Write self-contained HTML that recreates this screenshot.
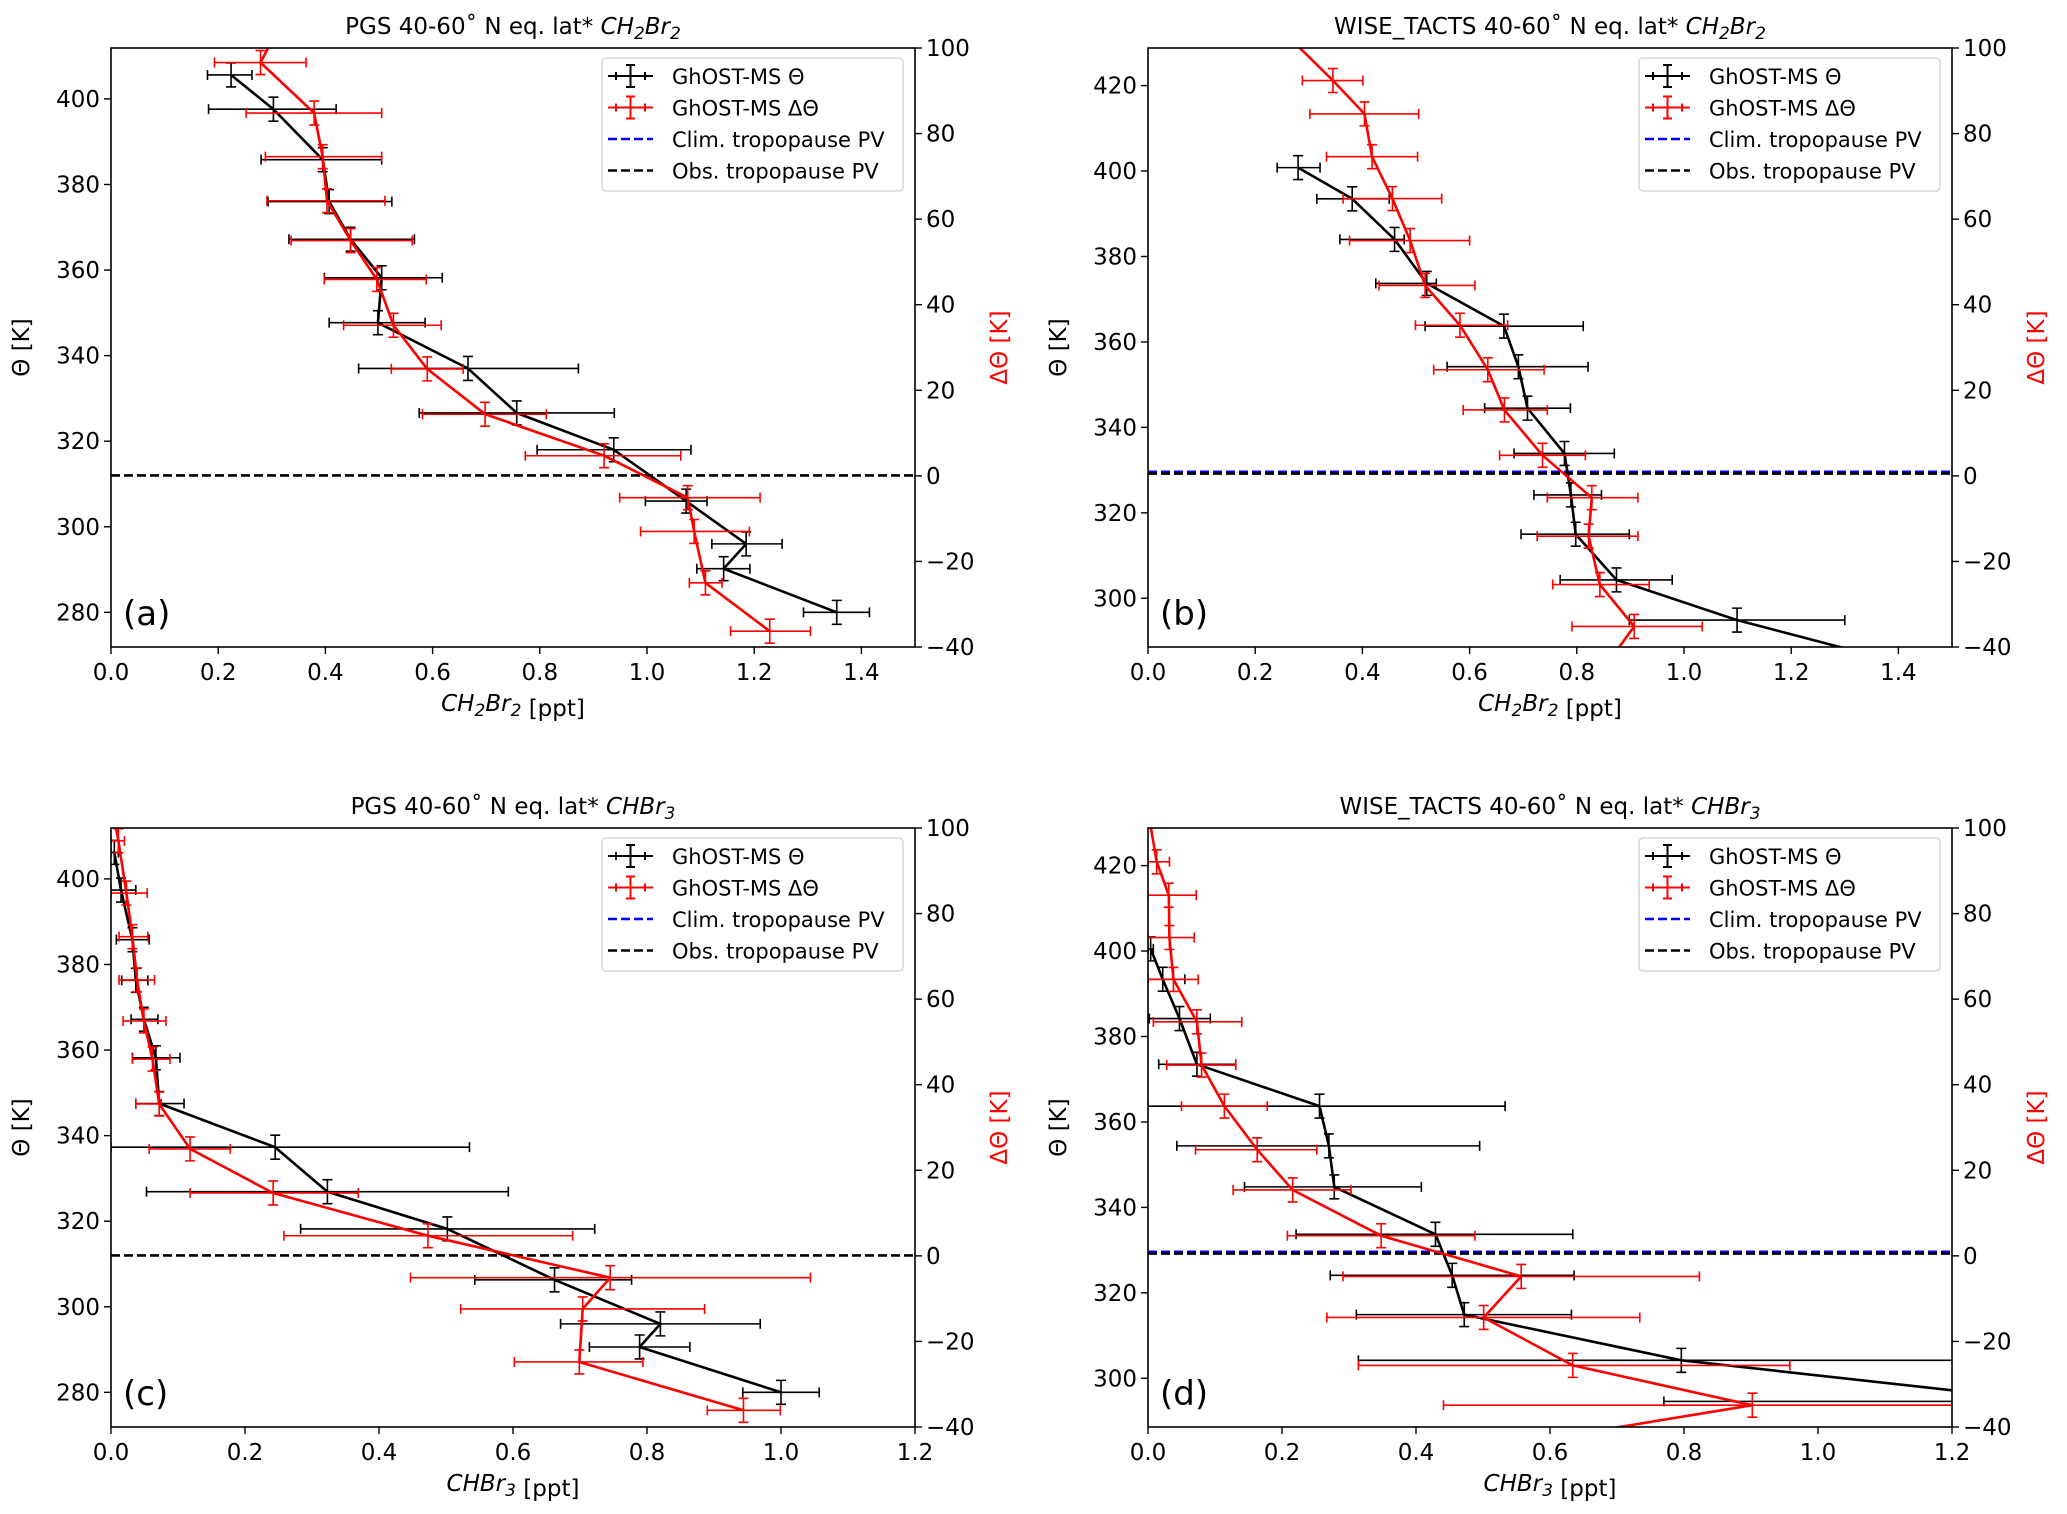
<!DOCTYPE html>
<html><head><meta charset="utf-8">
<style>
html,body{margin:0;padding:0;background:#fff;}
svg{display:block;font-family:"DejaVu Sans","Liberation Sans",sans-serif;}
</style></head>
<body>
<svg id="fig" width="2067" height="1514" viewBox="0 0 2067 1514" xmlns="http://www.w3.org/2000/svg"></svg>
<script>
// ---------- Panel (a): PGS CH2Br2 ----------
const aBlackX   = [0.224,0.303,0.395,0.407,0.447,0.505,0.498,0.666,0.757,0.938,1.073,1.185,1.143,1.354];
const aBlackTh  = [405.6,397.6,385.8,376.0,367.2,358.2,347.7,337.0,326.6,318.0,306.0,296.0,290.2,280.0];
const aBlackLo  = [0.180,0.182,0.280,0.293,0.332,0.398,0.407,0.462,0.575,0.795,0.997,1.121,1.093,1.292];
const aBlackHi  = [0.263,0.420,0.505,0.524,0.566,0.618,0.586,0.872,0.939,1.082,1.112,1.252,1.192,1.415];
const aRedX     = [0.310,0.279,0.379,0.395,0.403,0.447,0.496,0.527,0.590,0.698,0.920,1.076,1.088,1.109,1.229];
const aRedD     = [104,96.6,84.8,74.6,64.3,55.0,45.9,35.2,25.0,14.4,4.7,-5.1,-13.0,-25.0,-36.3];
const aRedLo    = [null,0.193,0.252,0.288,0.291,0.336,0.398,0.434,0.523,0.581,0.773,0.949,0.988,1.079,1.156];
const aRedHi    = [null,0.364,0.505,0.505,0.511,0.562,0.588,0.616,0.657,0.812,1.063,1.211,1.191,1.140,1.305];
// ---------- Panel (b): WISE_TACTS CH2Br2 ----------
const bBlackX   = [0.280,0.381,0.460,0.520,0.664,0.691,0.708,0.777,0.789,0.798,0.874,1.099,1.400];
const bBlackTh  = [400.8,393.5,384.0,373.7,363.7,354.2,344.5,333.9,324.2,315.0,304.3,294.9,285.0];
const bBlackLo  = [0.241,0.315,0.358,0.425,0.517,0.558,0.628,0.683,0.720,0.696,0.769,0.898,null];
const bBlackHi  = [0.321,0.450,0.478,0.538,0.812,0.821,0.788,0.870,0.846,0.898,0.978,1.300,null];
const bRedX     = [0.251,0.345,0.404,0.418,0.456,0.489,0.517,0.582,0.634,0.665,0.736,0.828,0.822,0.843,0.907,0.850];
const bRedD     = [104,92.4,84.6,74.6,64.8,55.0,44.5,35.2,24.8,15.4,4.8,-5.1,-14.1,-25.4,-35.2,-45];
const bRedLo    = [null,0.288,0.302,0.333,0.364,0.376,0.431,0.499,0.533,0.588,0.656,0.745,0.726,0.755,0.791,null];
const bRedHi    = [null,0.401,0.505,0.503,0.548,0.600,0.610,0.671,0.739,0.745,0.816,0.914,0.914,0.935,1.034,null];
// ---------- Panel (c): PGS CHBr3 ----------
const cBlackX   = [0.005,0.015,0.032,0.037,0.049,0.067,0.072,0.245,0.323,0.502,0.662,0.820,0.789,1.000];
const cBlackTh  = [406.2,397.4,385.8,376.3,367.2,358.2,347.5,337.3,326.9,318.2,306.3,296.0,290.6,280.0];
const cBlackLo  = [0.000,0.000,0.008,0.016,0.030,0.032,0.037,0.000,0.053,0.283,0.543,0.671,0.714,0.943];
const cBlackHi  = [0.011,0.037,0.057,0.055,0.070,0.103,0.109,0.535,0.593,0.722,0.777,0.969,0.864,1.057];
const cRedX     = [0.003,0.011,0.023,0.032,0.039,0.049,0.062,0.072,0.118,0.242,0.473,0.745,0.704,0.699,0.944];
const cRedD     = [104,97.0,84.8,74.6,64.5,54.9,46.0,35.5,25.0,14.7,4.7,-5.1,-12.4,-24.8,-36.1];
const cRedLo    = [null,0.000,0.000,0.012,0.012,0.018,0.032,0.037,0.057,0.118,0.258,0.447,0.522,0.602,0.890];
const cRedHi    = [null,0.020,0.054,0.055,0.065,0.082,0.088,0.075,0.178,0.369,0.689,1.044,0.886,0.794,0.999];
// ---------- Panel (d): WISE_TACTS CHBr3 ----------
const dBlackX   = [0.004,0.022,0.047,0.073,0.256,0.270,0.278,0.429,0.454,0.472,0.796,1.350];
const dBlackTh  = [400.5,393.4,384.2,373.5,363.7,354.4,344.8,333.7,324.1,314.9,304.2,294.6];
const dBlackLo  = [0.000,0.000,0.002,0.016,0.000,0.043,0.144,0.221,0.272,0.311,0.314,0.770];
const dBlackHi  = [0.008,0.055,0.093,0.131,0.533,0.495,0.408,0.634,0.636,0.632,1.280,1.900];
const dRedX     = [0.000,0.013,0.031,0.032,0.038,0.073,0.080,0.114,0.163,0.216,0.348,0.557,0.501,0.634,0.902,0.510];
const dRedD     = [104,92.1,84.3,74.4,64.6,54.7,44.6,35.0,24.8,15.4,4.7,-4.8,-14.4,-25.6,-34.9,-45];
const dRedLo    = [null,0.000,0.000,0.000,0.000,0.008,0.028,0.050,0.071,0.127,0.208,0.291,0.267,0.314,0.441,null];
const dRedHi    = [null,0.032,0.072,0.069,0.075,0.140,0.131,0.178,0.252,0.303,0.488,0.823,0.734,0.958,1.360,null];
// tick labels
const xTicksA = [0.0,0.2,0.4,0.6,0.8,1.0,1.2,1.4];
const xTicksC = [0.0,0.2,0.4,0.6,0.8,1.0,1.2];
const yTicksA = [280,300,320,340,360,380,400];
const yTicksB = [300,320,340,360,380,400,420];
const rTicks  = [-40,-20,0,20,40,60,80,100];
const thErr = 2.8, dErr = 2.8;

const NS="http://www.w3.org/2000/svg";
const svg=document.getElementById('fig');
function mk(tag,attrs,parent){const e=document.createElementNS(NS,tag);for(const k in attrs)e.setAttribute(k,attrs[k]);(parent||svg).appendChild(e);return e;}
function fmt(v){return (v<0?'\u2212':'')+Math.abs(v);}

function panel(o){
  const L=o.L,R=o.R,T=o.T,B=o.B;
  const g=mk('g',{});
  
  
  const sx=v=>L+(v-o.x0)/(o.x1-o.x0)*(R-L);
  const sy=v=>B-(v-o.y0)/(o.y1-o.y0)*(B-T);
  const sr=v=>B-(v+40)/140*(B-T);
  const cid='clip-'+o.tag;
  const cp=mk('clipPath',{id:cid},g);mk('rect',{x:L,y:T,width:R-L,height:B-T},cp);
  const pg=mk('g',{'clip-path':'url(#'+cid+')'},g);
  if(o.clim!==null){const l=mk('line',{x1:L,x2:R,y1:sy(o.clim),y2:sy(o.clim),stroke:'#0000ff','stroke-width':2.6,'stroke-dasharray':'9,4'},pg);
    }
  const ob=mk('line',{x1:L,x2:R,y1:sy(o.obs),y2:sy(o.obs),stroke:'#000','stroke-width':2.6,'stroke-dasharray':'9,4'},pg);
  
  function series(xs,ys,lo,hi,yfun,err,color,name){
    const sg=mk('g',{},pg);
    
    
    let d='';xs.forEach((x,i)=>{d+=(i?'L':'M')+sx(x).toFixed(1)+','+yfun(ys[i]).toFixed(1);});
    mk('path',{d:d,fill:'none',stroke:color,'stroke-width':2.6,'stroke-linejoin':'round'},sg);
    xs.forEach((x,i)=>{
      if(lo[i]===null)return;
      const cx=sx(x),cy=yfun(ys[i]),y1=yfun(ys[i]+err),y2=yfun(ys[i]-err),a=sx(lo[i]),b=sx(hi[i]);
      const eb=mk('g',{stroke:color,'stroke-width':1.6,fill:'none'},sg);
      
      
      mk('path',{d:`M${a},${cy}H${b}M${a},${cy-5}V${cy+5}M${b},${cy-5}V${cy+5}M${cx},${y1}V${y2}M${cx-5},${y1}H${cx+5}M${cx-5},${y2}H${cx+5}`},eb);
    });
  }
  series(o.bx,o.bth,o.blo,o.bhi,sy,thErr,'#000','black-theta-series');
  series(o.rx,o.rd,o.rlo,o.rhi,sr,dErr,'#ff0000','red-delta-theta-series');
  const fr=mk('rect',{x:L,y:T,width:R-L,height:B-T,fill:'none',stroke:'#000','stroke-width':1.6},g);
  
  o.xt.forEach(v=>{const x=sx(v);mk('line',{x1:x,x2:x,y1:B,y2:B+7,stroke:'#000','stroke-width':1.4},g);
    const t=mk('text',{x:x,y:B+33,'font-size':23,'text-anchor':'middle'},g);t.textContent=v.toFixed(1);
    });
  o.yt.forEach(v=>{const y=sy(v);mk('line',{x1:L-7,x2:L,y1:y,y2:y,stroke:'#000','stroke-width':1.4},g);
    const t=mk('text',{x:L-11,y:y+8,'font-size':23,'text-anchor':'end'},g);t.textContent=v;
    });
  rTicks.forEach(v=>{const y=sr(v);mk('line',{x1:R,x2:R+7,y1:y,y2:y,stroke:'#000','stroke-width':1.4},g);
    const t=mk('text',{x:R+11,y:y+8,'font-size':23,'text-anchor':'start'},g);t.textContent=fmt(v);
    });
  const ti=mk('text',{x:(L+R)/2,y:T-14,'font-size':23,'text-anchor':'middle'},g);
  ti.innerHTML=o.title;
  const xl=mk('text',{x:(L+R)/2,y:B+64,'font-size':23,'text-anchor':'middle'},g);
  xl.innerHTML=o.xlab;
  const yl=mk('text',{x:0,y:0,'font-size':23,'text-anchor':'middle',transform:`translate(${L-82},${(T+B)/2}) rotate(-90)`},g);
  yl.textContent='\u0398 [K]';
  const rl=mk('text',{x:0,y:0,'font-size':23,fill:'#ff0000','text-anchor':'middle',transform:`translate(${R+92},${(T+B)/2}) rotate(-90)`},g);
  rl.textContent='\u0394\u0398 [K]';
  const pl=mk('text',{x:L+12,y:B-22,'font-size':34},g);
  pl.textContent='('+o.tag+')';
  const lg=mk('g',{},g);
  
  const lx=R-313,ly=T+10;
  mk('rect',{x:lx,y:ly,width:301,height:133,rx:4,fill:'#fff','fill-opacity':0.85,stroke:'#d0d0d0','stroke-width':1.3},lg);
  const ents=[['GhOST-MS \u0398','#000','eb'],['GhOST-MS \u0394\u0398','#ff0000','eb'],['Clim. tropopause PV','#0000ff','ds'],['Obs. tropopause PV','#000','ds']];
  ents.forEach((e,i)=>{const y=ly+18+i*31.5;const eg=mk('g',{},lg);
    
    if(e[2]==='eb'){mk('path',{d:`M${lx+6},${y}H${lx+51}M${lx+14},${y-4}V${y+4}M${lx+43},${y-4}V${y+4}M${lx+28.5},${y-11}V${y+11}M${lx+24},${y-11}H${lx+33}M${lx+24},${y+11}H${lx+33}`,stroke:e[1],'stroke-width':2,fill:'none'},eg);}
    else{mk('line',{x1:lx+6,x2:lx+51,y1:y,y2:y,stroke:e[1],'stroke-width':2.6,'stroke-dasharray':'9,4'},eg);}
    const t=mk('text',{x:lx+70,y:y+8,'font-size':21},eg);t.textContent=e[0];});
}
const ch2='<tspan font-style="italic">CH</tspan><tspan font-style="italic" font-size="17" dy="5">2</tspan><tspan font-style="italic" dy="-5">Br</tspan><tspan font-style="italic" font-size="17" dy="5">2</tspan><tspan dy="-5"></tspan>';
const chb='<tspan font-style="italic">CHBr</tspan><tspan font-style="italic" font-size="17" dy="5">3</tspan><tspan dy="-5"></tspan>';
panel({tag:'a',L:111,R:915,T:48,B:647,x0:0,x1:1.5,y0:271.9,y1:411.9,xt:xTicksA,yt:yTicksA,clim:null,obs:312,
  bx:aBlackX,bth:aBlackTh,blo:aBlackLo,bhi:aBlackHi,rx:aRedX,rd:aRedD,rlo:aRedLo,rhi:aRedHi,
  title:'PGS 40-60\u02da N eq. lat* '+ch2,xlab:ch2+' [ppt]'});
panel({tag:'b',L:1148,R:1952,T:48,B:647,x0:0,x1:1.5,y0:288.6,y1:428.8,xt:xTicksA,yt:yTicksB,clim:329.6,obs:329.2,
  bx:bBlackX,bth:bBlackTh,blo:bBlackLo,bhi:bBlackHi,rx:bRedX,rd:bRedD,rlo:bRedLo,rhi:bRedHi,
  title:'WISE_TACTS 40-60\u02da N eq. lat* '+ch2,xlab:ch2+' [ppt]'});
panel({tag:'c',L:111,R:915,T:828,B:1427,x0:0,x1:1.2,y0:271.9,y1:411.9,xt:xTicksC,yt:yTicksA,clim:null,obs:312,
  bx:cBlackX,bth:cBlackTh,blo:cBlackLo,bhi:cBlackHi,rx:cRedX,rd:cRedD,rlo:cRedLo,rhi:cRedHi,
  title:'PGS 40-60\u02da N eq. lat* '+chb,xlab:chb+' [ppt]'});
panel({tag:'d',L:1148,R:1952,T:828,B:1427,x0:0,x1:1.2,y0:288.6,y1:428.8,xt:xTicksC,yt:yTicksB,clim:329.6,obs:329.2,
  bx:dBlackX,bth:dBlackTh,blo:dBlackLo,bhi:dBlackHi,rx:dRedX,rd:dRedD,rlo:dRedLo,rhi:dRedHi,
  title:'WISE_TACTS 40-60\u02da N eq. lat* '+chb,xlab:chb+' [ppt]'});
</script>
</body></html>
